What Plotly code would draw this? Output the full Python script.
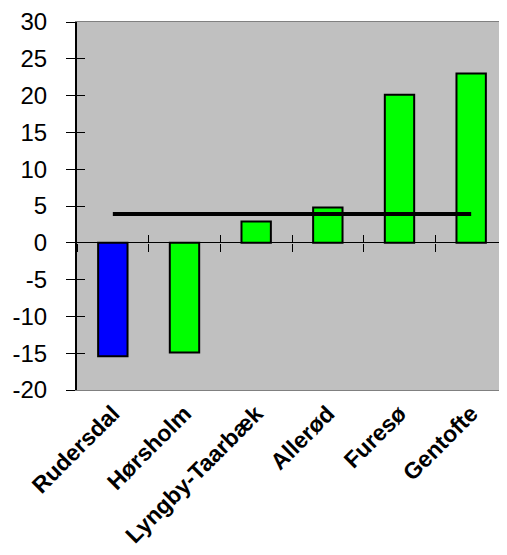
import plotly.graph_objects as go

categories = ["Rudersdal", "Hørsholm", "Lyngby-Taarbæk", "Allerød", "Furesø", "Gentofte"]
values = [-15.4, -14.9, 2.9, 4.8, 20.1, 23.0]
bar_colors = ["#0000FF", "#00FF00", "#00FF00", "#00FF00", "#00FF00", "#00FF00"]
average = [3.9] * len(categories)
y_ticks = [-20, -15, -10, -5, 0, 5, 10, 15, 20, 25, 30]
y_ticktext = ["-20", "-15", "-10", "-5", "0", "5", "10", "15", "20", "25", "30"]

FONT = "Arial, 'Liberation Sans', sans-serif"
y0_pos = (0 - (-20)) / (30 - (-20))

fig = go.Figure()
fig.add_trace(go.Bar(
    x=categories, y=values, marker=dict(color=bar_colors, line=dict(color="black", width=2)),
    hoverinfo="skip", showlegend=False, xaxis="x", yaxis="y"))
fig.add_trace(go.Scatter(
    x=categories, y=average, mode="lines", line=dict(color="black", width=4),
    hoverinfo="skip", showlegend=False, xaxis="x2", yaxis="y"))
fig.add_trace(go.Scatter(
    x=categories, y=average, mode="markers", marker=dict(opacity=0),
    hoverinfo="skip", showlegend=False, xaxis="x3", yaxis="y"))
fig.add_trace(go.Scatter(
    x=categories, y=average, mode="markers", marker=dict(opacity=0),
    hoverinfo="skip", showlegend=False, xaxis="x", yaxis="y2"))

common_x = dict(type="category", categoryorder="array", categoryarray=categories,
                range=[-0.5, len(categories) - 0.5], automargin=False)

fig.update_layout(
    width=507, height=555,
    margin=dict(l=69, r=8, t=14, b=173),
    paper_bgcolor="white", plot_bgcolor="#C0C0C0",
    bargap=0.59,
    font=dict(family=FONT, color="black"),
    xaxis=dict(**common_x, showgrid=False, ticks="", showline=True, linecolor="#808080",
               linewidth=1, mirror=True, tickangle=-45,
               tickfont=dict(family=FONT, size=23, color="black", weight="bold")),
    xaxis2=dict(**common_x, overlaying="x", anchor="free", position=y0_pos,
                showgrid=False, showline=False, showticklabels=False,
                ticks="outside", tickson="boundaries", ticklen=8, tickcolor="black", tickwidth=1),
    xaxis3=dict(**common_x, overlaying="x", anchor="free", position=y0_pos,
                showgrid=False, showline=False, showticklabels=False,
                ticks="inside", tickson="boundaries", ticklen=8, tickcolor="black", tickwidth=1),
    yaxis=dict(range=[-20, 30], tickvals=y_ticks, ticktext=y_ticktext, showgrid=False,
               zeroline=True, automargin=False, ticklabelstandoff=14,
               ticklabeloverflow="allow",
               zerolinecolor="black", zerolinewidth=1, showline=True, linecolor="black",
               linewidth=2, ticks="outside", ticklen=9, tickcolor="black", tickwidth=1,
               tickfont=dict(family=FONT, size=24, color="black")),
    yaxis2=dict(range=[-20, 30], tickvals=y_ticks, overlaying="y", anchor="x", side="left",
                showgrid=False, zeroline=False, showline=False, showticklabels=False,
                automargin=False,
                ticks="inside", ticklen=8, tickcolor="black", tickwidth=1),
)

fig.write_html("out.html")
